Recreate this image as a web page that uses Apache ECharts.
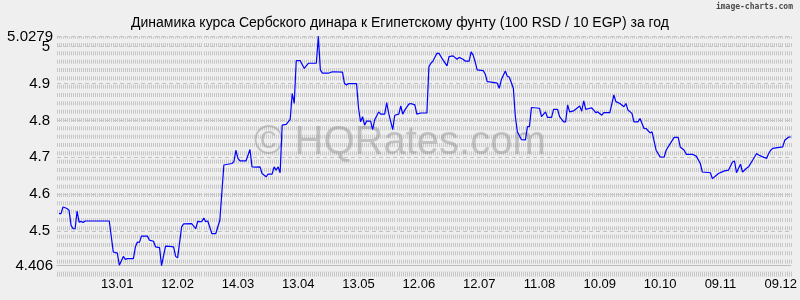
<!DOCTYPE html>
<html>
<head>
<meta charset="utf-8">
<script src="https://cdn.jsdelivr.net/npm/echarts@6/dist/echarts.min.js"></script>
<style>
  html, body { margin: 0; padding: 0; background: #efefef; }
  #chart { width: 800px; height: 300px; }
</style>
</head>
<body>
<div id="chart"></div>
<script>
// Day index (0 = 14.12 of previous year) of each reading
const days = [
  1, 2, 3, 5, 6, 7, 8, 9, 10, 11,
  12, 13, 14, 26, 28, 30, 31, 33, 34, 35,
  38, 39, 40, 41, 42, 45, 46, 48, 49, 51,
  52, 54, 56, 58, 59, 60, 62, 63, 67, 69,
  70, 72, 73, 74, 75, 77, 79, 81, 83, 87,
  88, 89, 90, 91, 94, 96, 97, 99, 101, 102,
  104, 105, 107, 108, 109, 110, 111, 112, 114, 116,
  117, 118, 119, 121, 123, 125, 129, 130, 131, 132,
  135, 137, 142, 143, 144, 145, 149, 150, 151, 152,
  153, 154, 156, 157, 158, 160, 161, 163, 164, 165,
  167, 168, 170, 171, 172, 173, 175, 176, 178, 179,
  181, 184, 185, 186, 187, 189, 190, 192, 194, 195,
  197, 199, 200, 202, 203, 205, 206, 207, 208, 209,
  212, 213, 214, 217, 219, 220, 221, 223, 224, 225,
  227, 228, 229, 231, 233, 234, 235, 236, 240, 241,
  243, 244, 246, 247, 249, 250, 252, 253, 254, 255,
  257, 258, 260, 261, 262, 263, 265, 266, 268, 269,
  271, 272, 275, 277, 278, 280, 282, 283, 284, 286,
  287, 289, 290, 292, 293, 295, 296, 298, 300, 302,
  303, 304, 307, 309, 310, 312, 313, 316, 318, 320,
  321, 325, 326, 328, 329, 332, 334, 336, 337, 338,
  339, 340, 341, 343, 344, 346, 348, 349, 351, 353,
  354, 355, 356, 361, 362, 364, 365
];
// Rate: 100 RSD / 10 EGP
const rates = [
  4.547, 4.547, 4.565, 4.561, 4.556, 4.515, 4.506, 4.506, 4.554, 4.524,
  4.526, 4.523, 4.527, 4.527, 4.443, 4.440, 4.407, 4.431, 4.423, 4.425,
  4.425, 4.457, 4.470, 4.469, 4.486, 4.486, 4.475, 4.472, 4.457, 4.455,
  4.406, 4.459, 4.458, 4.457, 4.431, 4.427, 4.511, 4.519, 4.520, 4.506,
  4.526, 4.525, 4.535, 4.525, 4.527, 4.493, 4.493, 4.529, 4.679, 4.683,
  4.688, 4.719, 4.697, 4.690, 4.690, 4.721, 4.674, 4.673, 4.674, 4.656,
  4.647, 4.654, 4.654, 4.674, 4.665, 4.674, 4.658, 4.787, 4.789, 4.803,
  4.873, 4.846, 4.962, 4.962, 4.941, 4.955, 4.955, 5.0279, 4.937, 4.928,
  4.928, 4.932, 4.931, 4.900, 4.896, 4.900, 4.900, 4.833, 4.796, 4.810,
  4.787, 4.798, 4.798, 4.775, 4.801, 4.823, 4.817, 4.817, 4.848, 4.819,
  4.775, 4.814, 4.817, 4.839, 4.817, 4.828, 4.844, 4.846, 4.842, 4.817,
  4.820, 4.820, 4.946, 4.955, 4.961, 4.982, 4.982, 4.964, 4.948, 4.973,
  4.975, 4.966, 4.971, 4.966, 4.961, 4.961, 4.986, 4.977, 4.959, 4.937,
  4.935, 4.926, 4.905, 4.903, 4.901, 4.887, 4.910, 4.934, 4.920, 4.917,
  4.887, 4.810, 4.769, 4.748, 4.747, 4.783, 4.783, 4.835, 4.833, 4.810,
  4.823, 4.808, 4.808, 4.830, 4.830, 4.810, 4.796, 4.796, 4.842, 4.823,
  4.826, 4.830, 4.839, 4.825, 4.853, 4.830, 4.833, 4.834, 4.821, 4.823,
  4.814, 4.821, 4.821, 4.869, 4.851, 4.846, 4.837, 4.846, 4.828, 4.819,
  4.796, 4.796, 4.805, 4.778, 4.778, 4.766, 4.769, 4.719, 4.701, 4.700,
  4.719, 4.728, 4.754, 4.754, 4.728, 4.719, 4.708, 4.708, 4.703, 4.683,
  4.660, 4.658, 4.642, 4.651, 4.656, 4.663, 4.665, 4.687, 4.690, 4.658,
  4.670, 4.681, 4.660, 4.670, 4.674, 4.692, 4.710, 4.706, 4.701, 4.697,
  4.710, 4.719, 4.724, 4.728, 4.746, 4.755, 4.755
];
const xTickDays = [30, 60, 90, 120, 150, 180, 210, 240, 270, 300, 330, 360];
const xTickLabels = ['13.01', '12.02', '14.03', '13.04', '13.05', '12.06', '12.07', '11.08', '10.09', '10.10', '09.11', '09.12'];
const yTickValues = [4.406, 4.5, 4.6, 4.7, 4.8, 4.9, 5, 5.0279];
const yMin = 4.406;
const yMax = 5.0279;
const titleText = 'Динамика курса Сербского динара к Египетскому фунту (100 RSD / 10 EGP) за год';

const FONT = 'Liberation Sans, Arial, sans-serif';
const chart = echarts.init(document.getElementById('chart'), null, { renderer: 'canvas' });

const seriesData = days.map((d, i) => [d, rates[i]]);
const mainYTicks = yTickValues.filter(v => v !== yMax);
const topYTicks = yTickValues.filter(v => v === yMax);

const yLabelStyle = {
  e: { fontFamily: FONT, fontSize: 15, color: '#000' },
  n: { fontFamily: FONT, fontSize: 15, color: '#000', padding: [0, 3, 0, 0] }
};
const yFmt = v => (v === yMin || v === yMax) ? '{e|' + v + '}' : '{n|' + v + '}';

chart.setOption({
  backgroundColor: '#efefef',
  animation: false,
  title: {
    text: titleText,
    left: 'center',
    top: 11,
    textStyle: { fontFamily: FONT, fontSize: 14, fontWeight: 'normal', color: '#000' }
  },
  grid: { left: 57, right: 1, top: 36.4, bottom: 34.4, containLabel: false },
  xAxis: {
    type: 'value',
    min: 0,
    max: 365,
    interval: 1,
    axisLine: { show: true, lineStyle: { color: '#bdbdbd', width: 1 } },
    axisTick: {
      show: true, length: 11, inside: false,
      lineStyle: { color: '#c6c6c6', width: 1, type: [5, 6], dashOffset: 5 }
    },
    axisLabel: {
      customValues: xTickDays,
      formatter: v => { const k = xTickDays.indexOf(v); return k >= 0 ? xTickLabels[k] : ''; },
      margin: 12,
      fontFamily: FONT, fontSize: 13, color: '#000'
    },
    splitLine: {
      show: true,
      lineStyle: { color: '#c6c6c6', width: 1, type: [4, 4.33], dashOffset: 1.7 }
    }
  },
  yAxis: [
    {
      type: 'value',
      position: 'left',
      min: yMin,
      max: yMax,
      axisLine: { show: false },
      axisTick: { show: false, customValues: yTickValues },
      axisLabel: {
        customValues: mainYTicks,
        hideOverlap: false,
        showMinLabel: true,
        showMaxLabel: true,
        margin: 4,
        formatter: yFmt,
        rich: yLabelStyle
      },
      splitLine: {
        show: true,
        lineStyle: { color: '#c2c2c2', width: 1, type: [4, 3] }
      }
    },
    {
      type: 'value',
      position: 'left',
      offset: 0,
      min: yMin,
      max: yMax,
      axisLine: { show: false },
      axisTick: { show: false },
      splitLine: { show: false },
      axisLabel: {
        customValues: topYTicks,
        hideOverlap: false,
        showMinLabel: true,
        showMaxLabel: true,
        margin: 4,
        formatter: yFmt,
        rich: yLabelStyle
      }
    }
  ],
  graphic: [
    {
      type: 'text',
      z: 1,
      silent: true,
      style: {
        text: '© HQRates.com',
        x: 254, y: 163,
        font: '40px Liberation Sans, Arial, sans-serif',
        fill: 'rgba(140,140,140,0.45)',
        textBaseline: 'alphabetic',
        verticalAlign: 'bottom'
      }
    },
    {
      type: 'text',
      silent: true,
      style: {
        text: 'image-charts.com',
        x: 793, y: 7,
        font: 'bold 8px DejaVu Sans Mono, monospace',
        fill: '#4a4a4a',
        align: 'right',
        textAlign: 'right',
        verticalAlign: 'middle',
        textVerticalAlign: 'middle'
      }
    }
  ],
  series: [{
    type: 'line',
    yAxisIndex: 0,
    data: seriesData,
    showSymbol: false,
    symbol: 'none',
    z: 5,
    lineStyle: { color: '#0000ff', width: 1.2 }
  }]
});
</script>
</body>
</html>
